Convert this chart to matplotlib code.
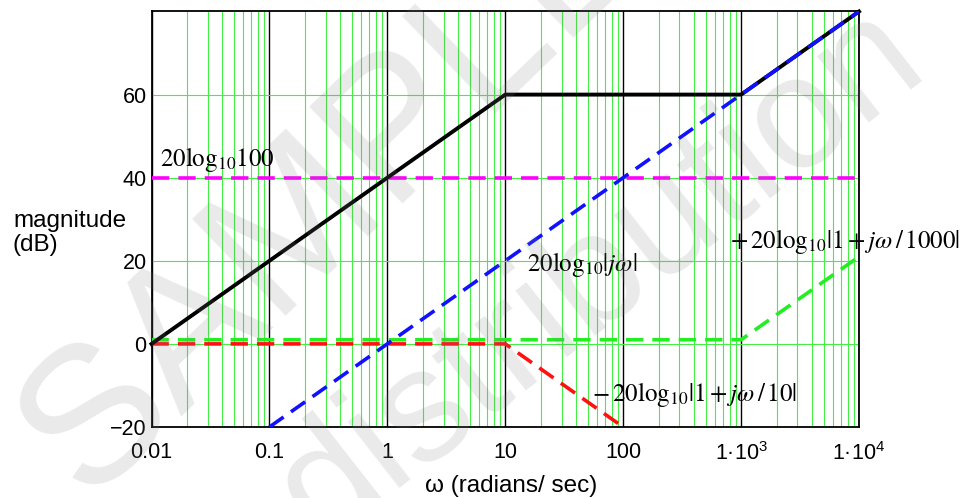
import numpy as np
import matplotlib
matplotlib.use("Agg")
import matplotlib.pyplot as plt
from matplotlib.ticker import LogLocator, FixedLocator, NullFormatter

# ---- data ----
w_total = [0.01, 10, 1000, 1e4]
db_total = [0, 60, 60, 80]
w_jw = [0.1, 1e4]
db_jw = [-20, 80]
w_const = [0.01, 1e4]
db_const = [40, 40]
w_p1000 = [0.01, 1000, 1e4]
db_p1000 = [1, 1, 21]
w_p10 = [0.01, 10, 100]
db_p10 = [0, 0, -20]

xtick_vals = [0.01, 0.1, 1, 10, 100, 1000, 1e4]
xtick_labels = ['0.01', '0.1', '1', '10', '100',
                '1·10$^{\\mathregular{3}}$', '1·10$^{\\mathregular{4}}$']
ytick_vals = [-20, 0, 20, 40, 60]
ytick_labels = ['−20', '0', '20', '40', '60']

plt.rcParams['font.family'] = ['Liberation Sans', 'DejaVu Sans']

fig = plt.figure(figsize=(9.63, 4.98), dpi=100)
ax = fig.add_axes([151.5/963, 1-427/498, (859-151.5)/963, (427-11.5)/498])
ax.set_xscale('log')
ax.set_xlim(0.01, 1e4)
ax.set_ylim(-20, 80)

grid_green = '#44ee44'
ax.xaxis.set_major_locator(FixedLocator(xtick_vals))
ax.xaxis.set_minor_locator(LogLocator(base=10, subs=np.arange(2, 10), numticks=20))
ax.xaxis.set_minor_formatter(NullFormatter())
ax.set_xticks(xtick_vals)
ax.set_xticklabels(xtick_labels)
ax.set_yticks(ytick_vals)
ax.set_yticklabels(ytick_labels)
ax.grid(True, which='major', axis='x', color='black', linewidth=1.0, zorder=0)
ax.grid(True, which='minor', axis='x', color=grid_green, linewidth=0.8, zorder=0)
ax.grid(True, which='major', axis='y', color=grid_green, linewidth=0.8, zorder=0)
ax.set_axisbelow(True)
ax.tick_params(which='both', length=0)
ax.tick_params(axis='x', pad=11, labelsize=15.5)
ax.tick_params(axis='y', pad=3.5, labelsize=15.5)
for s in ax.spines.values():
    s.set_linewidth(1.3)
    s.set_color('black')

dash = (4.8, 2.5)
ax.plot(w_const, db_const, color='#ff00ff', lw=2.6, dashes=dash, zorder=3)
ax.plot(w_p1000, db_p1000, color='#22ee22', lw=2.6, dashes=dash, zorder=3)
ax.plot(w_p10, db_p10, color='#ff1111', lw=2.6, dashes=dash, zorder=3)
ax.plot(w_jw, db_jw, color='#1111ff', lw=2.6, dashes=dash, zorder=4)
ax.plot(w_total, db_total, color='black', lw=2.8, zorder=3, clip_on=False)

fs = 18
ax.text(0.0118, 42.9, r'$\mathrm{20log}_{10}\mathrm{100}$', fontsize=fs,
        math_fontfamily='stix', ha='left', va='baseline')
ax.text(15.2, 17.6, r'$\mathrm{20log}_{10}|j\omega|$', fontsize=fs,
        math_fontfamily='stix', ha='left', va='baseline')
ax.text(800, 23.1, r'$+\,\mathrm{20log}_{10}|1+j\omega\,/\,1000|$', fontsize=fs,
        math_fontfamily='stix', ha='left', va='baseline', clip_on=False)
ax.text(54, -13.7, r'$-\,\mathrm{20log}_{10}|1+j\omega\,/\,10|$', fontsize=fs,
        math_fontfamily='stix', ha='left', va='baseline')

fig.text(13/963, 1-227/498, 'magnitude', fontsize=17.5, ha='left', va='baseline')
fig.text(13/963, 1-251/498, '(dB)', fontsize=17.5, ha='left', va='baseline')
fig.text(511/963, 1-486/498, 'ω (radians/ sec)', fontsize=17.5, ha='center', va='center')

# watermark
fig.text(335/963, 1-190/498, 'SAMPLE', fontsize=140, color='#808080', alpha=0.17,
         rotation=44, ha='center', va='center', zorder=10)
fig.text(600/963, 1-275/498, 'distribution', fontsize=115, color='#808080', alpha=0.17,
         rotation=38, ha='center', va='center', zorder=10)

fig.savefig('out.png', dpi=100)
